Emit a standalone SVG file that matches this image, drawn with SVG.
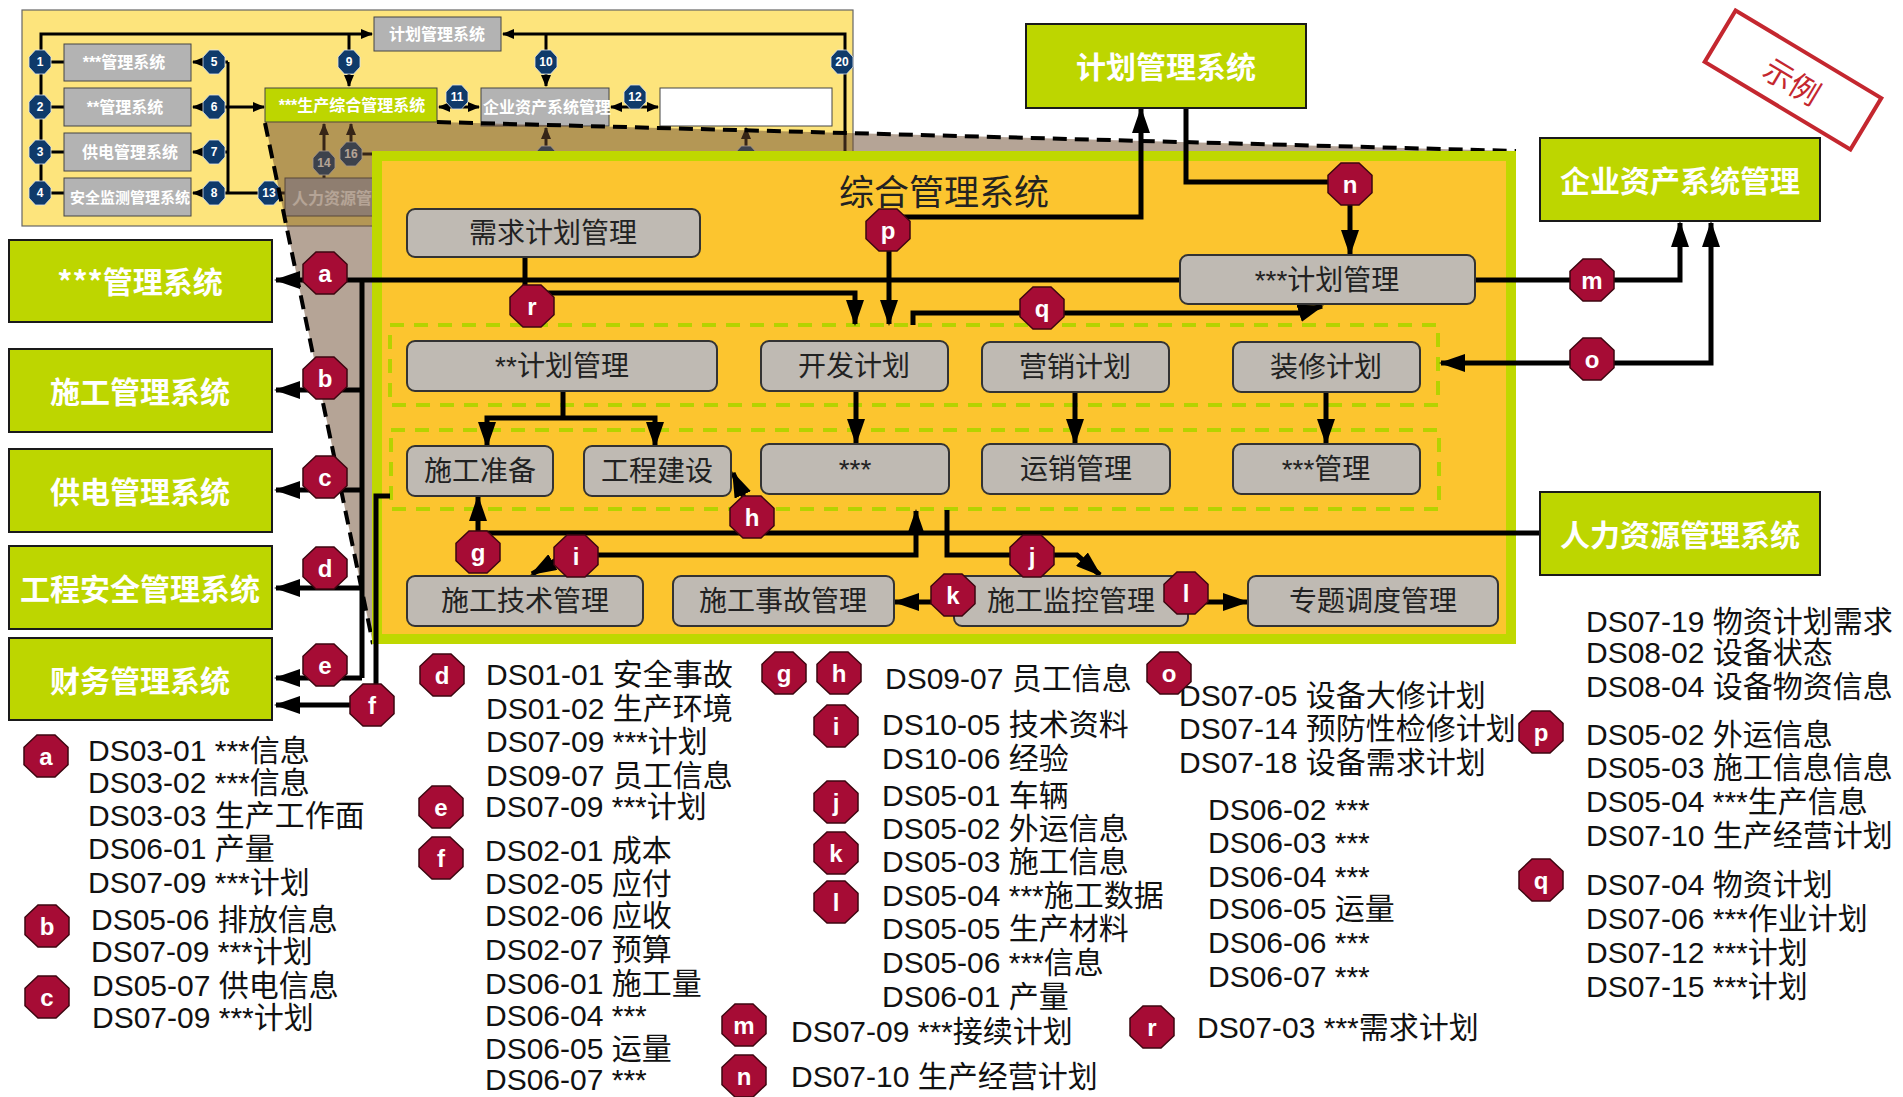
<svg xmlns="http://www.w3.org/2000/svg" xmlns:xlink="http://www.w3.org/1999/xlink" width="1903" height="1097" viewBox="0 0 1903 1097">
<defs>
<style>
.gbox{fill:#BDD600;stroke:#1a1a1a;stroke-width:2}
.gtxt{font-family:"Noto Sans CJK SC",sans-serif;font-weight:700;font-size:30px;fill:#fff;text-anchor:middle;dominant-baseline:central}
.node{fill:#BFBAB3;stroke:#333;stroke-width:2}
.ntxt{font-family:"Liberation Sans","Noto Sans CJK SC",sans-serif;font-size:28px;fill:#222;text-anchor:middle;dominant-baseline:central}
.ibox{fill:#B3B3B3;stroke:#444;stroke-width:1}
.itxt{font-family:"Liberation Sans","Noto Sans CJK SC",sans-serif;font-weight:700;font-size:16px;fill:#fff;text-anchor:middle;dominant-baseline:central}
.conn{fill:none;stroke:#000;stroke-width:5}
.iconn{fill:none;stroke:#000;stroke-width:3}
.rb{fill:#A60C35;stroke:#3d0610;stroke-width:1.5}
.rbt{font-family:"Liberation Sans",sans-serif;font-weight:700;font-size:24px;fill:#fff;text-anchor:middle;dominant-baseline:central}
.nb{fill:#0F3A6A;stroke:#dfe6ee;stroke-width:0.8}
.nbt{font-family:"Liberation Sans",sans-serif;font-weight:700;font-size:12px;fill:#fff;text-anchor:middle;dominant-baseline:central}
.leg{font-family:"Liberation Sans","Noto Sans CJK SC",sans-serif;font-size:30px;fill:#111}
.grp{fill:none;stroke:#B5D300;stroke-width:4;stroke-dasharray:14 10}
.dash{fill:none;stroke:#000;stroke-width:4;stroke-dasharray:14 8}
</style>
<marker id="ar" markerUnits="userSpaceOnUse" markerWidth="26" markerHeight="18" viewBox="0 0 26 18" refX="24" refY="9" orient="auto-start-reverse"><path d="M0,0L26,9L0,18z" fill="#000"/></marker>
<marker id="ars" markerUnits="userSpaceOnUse" markerWidth="12" markerHeight="10" viewBox="0 0 12 10" refX="11" refY="5" orient="auto-start-reverse"><path d="M0,0L12,5L0,10z" fill="#000"/></marker>
<polygon id="oct" points="-9,-21 9,-21 22,-8.7 22,8.7 9,21 -9,21 -22,8.7 -22,-8.7"/>
<polygon id="octs" points="-4.6,-12 4.6,-12 11,-5 11,5 4.6,12 -4.6,12 -11,5 -11,-5"/>
</defs>
<rect width="1903" height="1097" fill="#fff"/>

<!-- inset -->
<g id="inset">
<rect x="22" y="10" width="831" height="216" fill="#FDE47C" stroke="#666" stroke-width="1.2"/>
<g class="iconns">
<path class="iconn" d="M41 193V34H372" marker-end="url(#ars)"/>
<path class="iconn" d="M41 62H64M41 107H64M41 152H64M41 193H64"/>
<path class="iconn" d="M845 152V34H503" marker-end="url(#ars)"/>
<path class="iconn" d="M349 34V86" marker-end="url(#ars)"/>
<path class="iconn" d="M546 34V86" marker-end="url(#ars)"/>
<path class="iconn" d="M228 62V193"/>
<path class="iconn" d="M228 62H193" marker-end="url(#ars)"/>
<path class="iconn" d="M228 107H193" marker-end="url(#ars)"/>
<path class="iconn" d="M228 152H193" marker-end="url(#ars)"/>
<path class="iconn" d="M228 193H193" marker-end="url(#ars)"/>
<path class="iconn" d="M228 107H264" marker-end="url(#ars)"/>
<path class="iconn" d="M228 193H285"/>
<path class="iconn" d="M439 107H479" marker-start="url(#ars)" marker-end="url(#ars)"/>
<path class="iconn" d="M611 107H658" marker-start="url(#ars)" marker-end="url(#ars)"/>
<path class="iconn" d="M324 178V124" marker-end="url(#ars)"/>
<path class="iconn" d="M351 154V124" marker-end="url(#ars)"/>
<path class="iconn" d="M351 154H400"/>
<path class="iconn" d="M546 170V128" marker-end="url(#ars)"/>
<path class="iconn" d="M746 170V128" marker-end="url(#ars)"/>
</g>
<g id="i-plan"><rect class="ibox" x="374" y="17" width="127" height="34"/><text class="itxt" x="437" y="34">计划管理系统</text></g>
<g id="i-s1"><rect class="ibox" x="64" y="44" width="127" height="37"/><text class="itxt" x="124" y="62">***管理系统</text></g>
<g id="i-s2"><rect class="ibox" x="64" y="88" width="127" height="38"/><text class="itxt" x="125" y="107">**管理系统</text></g>
<g id="i-s3"><rect class="ibox" x="64" y="133" width="127" height="38"/><text class="itxt" x="130" y="152">供电管理系统</text></g>
<g id="i-s4"><rect class="ibox" x="64" y="178" width="127" height="38"/><text class="itxt" x="130" y="197" style="font-size:15px">安全监测管理系统</text></g>
<g id="i-prod"><rect x="265" y="88" width="172" height="34" fill="#BDD600" stroke="#444" stroke-width="1"/><text class="itxt" x="352" y="105">***生产综合管理系统</text></g>
<g id="i-asset"><rect class="ibox" x="481" y="88" width="128" height="38"/><text class="itxt" x="547" y="107">企业资产系统管理</text></g>
<g id="i-white"><rect x="660" y="88" width="172" height="38" fill="#fff" stroke="#444" stroke-width="1"/></g>
<g id="i-hr"><rect class="ibox" x="285" y="178" width="140" height="38"/><text class="itxt" x="292" y="198" style="text-anchor:start">人力资源管</text></g>
<g id="i-badges">
<use href="#octs" class="nb" x="40" y="62"/><text class="nbt" x="40" y="62">1</text>
<use href="#octs" class="nb" x="40" y="107"/><text class="nbt" x="40" y="107">2</text>
<use href="#octs" class="nb" x="40" y="152"/><text class="nbt" x="40" y="152">3</text>
<use href="#octs" class="nb" x="40" y="193"/><text class="nbt" x="40" y="193">4</text>
<use href="#octs" class="nb" x="214" y="62"/><text class="nbt" x="214" y="62">5</text>
<use href="#octs" class="nb" x="214" y="107"/><text class="nbt" x="214" y="107">6</text>
<use href="#octs" class="nb" x="214" y="152"/><text class="nbt" x="214" y="152">7</text>
<use href="#octs" class="nb" x="214" y="193"/><text class="nbt" x="214" y="193">8</text>
<use href="#octs" class="nb" x="349" y="62"/><text class="nbt" x="349" y="62">9</text>
<use href="#octs" class="nb" x="546" y="62"/><text class="nbt" x="546" y="62">10</text>
<use href="#octs" class="nb" x="457" y="97"/><text class="nbt" x="457" y="97">11</text>
<use href="#octs" class="nb" x="635" y="97"/><text class="nbt" x="635" y="97">12</text>
<use href="#octs" class="nb" x="269" y="193"/><text class="nbt" x="269" y="193">13</text>
<use href="#octs" class="nb" x="324" y="163"/><text class="nbt" x="324" y="163">14</text>
<use href="#octs" class="nb" x="351" y="154"/><text class="nbt" x="351" y="154">16</text>
<use href="#octs" class="nb" x="546" y="158"/><text class="nbt" x="546" y="158">17</text>
<use href="#octs" class="nb" x="746" y="158"/><text class="nbt" x="746" y="158">18</text>
<use href="#octs" class="nb" x="842" y="62"/><text class="nbt" x="842" y="62">20</text>
</g>
</g>

<!-- zoom overlay -->
<g id="overlay">
<polygon points="265,122 437,122 1516,151 373,644" fill="#6B4A2E" fill-opacity="0.5"/>
<path class="dash" d="M265 123L373 644M437 122L1516 151"/>
</g>

<!-- main panel -->
<g id="panel">
<rect x="372" y="151" width="1144" height="493" fill="#BFD800"/>
<rect x="382" y="161" width="1124" height="473" fill="#FCC52F"/>
<text x="944" y="189" style="font-family:'Noto Sans CJK SC',sans-serif;font-size:35px;fill:#222;text-anchor:middle;dominant-baseline:central">综合管理系统</text>
<rect class="grp" x="390" y="325" width="1048" height="80"/>
<rect class="grp" x="391" y="430" width="1048" height="79"/>
</g>

<!-- connectors -->
<g id="connectors">
<path class="conn" d="M1180 280H276" marker-end="url(#ar)"/>
<path class="conn" d="M362 280V678"/>
<path class="conn" d="M362 390H276" marker-end="url(#ar)"/>
<path class="conn" d="M362 490H276" marker-end="url(#ar)"/>
<path class="conn" d="M362 588H276" marker-end="url(#ar)"/>
<path class="conn" d="M362 678H276" marker-end="url(#ar)"/>
<path class="conn" d="M390 496H376V705H276" marker-end="url(#ar)"/>
<path class="conn" d="M525 257V293H855V324" marker-end="url(#ar)"/>
<path class="conn" d="M889 324V217H1141V109" marker-start="url(#ar)" marker-end="url(#ar)"/>
<path class="conn" d="M1186 108V182H1350V254" marker-end="url(#ar)"/>
<path class="conn" d="M1475 280H1680V223" marker-end="url(#ar)"/>
<path class="conn" d="M1711 223V363H1441" marker-start="url(#ar)" marker-end="url(#ar)"/>
<path class="conn" d="M913 325V313H1300L1322 306" marker-end="url(#ar)"/>
<path class="conn" d="M563 391V418"/>
<path class="conn" d="M487 446V418H655V446" marker-start="url(#ar)" marker-end="url(#ar)"/>
<path class="conn" d="M856 391V443" marker-end="url(#ar)"/>
<path class="conn" d="M1075 392V443" marker-end="url(#ar)"/>
<path class="conn" d="M1326 392V443" marker-end="url(#ar)"/>
<path class="conn" d="M1540 533H478V497" marker-end="url(#ar)"/>
<path class="conn" d="M760 533L733 473" marker-end="url(#ar)"/>
<path class="conn" d="M916 511V555H565L532 574" marker-start="url(#ar)" marker-end="url(#ar)"/>
<path class="conn" d="M947 510V555H1077L1100 575" marker-end="url(#ar)"/>
<path class="conn" d="M954 602H895" marker-end="url(#ar)"/>
<path class="conn" d="M1189 602H1247" marker-end="url(#ar)"/>
</g>

<!-- panel nodes -->
<g id="n-xuqiu"><rect class="node" x="407" y="209" width="293" height="48" rx="8"/><text class="ntxt" x="553" y="233">需求计划管理</text></g>
<g id="n-jihua3"><rect class="node" x="1180" y="255" width="295" height="49" rx="8"/><text class="ntxt" x="1327" y="280">***计划管理</text></g>
<g id="n-jihua2"><rect class="node" x="407" y="341" width="310" height="50" rx="8"/><text class="ntxt" x="562" y="366">**计划管理</text></g>
<g id="n-kaifa"><rect class="node" x="761" y="341" width="187" height="50" rx="8"/><text class="ntxt" x="854" y="366">开发计划</text></g>
<g id="n-yingxiao"><rect class="node" x="982" y="342" width="187" height="50" rx="8"/><text class="ntxt" x="1075" y="367">营销计划</text></g>
<g id="n-zhuangxiu"><rect class="node" x="1233" y="342" width="187" height="50" rx="8"/><text class="ntxt" x="1326" y="367">装修计划</text></g>
<g id="n-zhunbei"><rect class="node" x="407" y="446" width="146" height="50" rx="8"/><text class="ntxt" x="480" y="471">施工准备</text></g>
<g id="n-jianshe"><rect class="node" x="584" y="446" width="147" height="50" rx="8"/><text class="ntxt" x="657" y="471">工程建设</text></g>
<g id="n-star"><rect class="node" x="761" y="444" width="188" height="50" rx="8"/><text class="ntxt" x="855" y="469">***</text></g>
<g id="n-yunxiao"><rect class="node" x="982" y="444" width="188" height="50" rx="8"/><text class="ntxt" x="1076" y="469">运销管理</text></g>
<g id="n-guanli3"><rect class="node" x="1233" y="444" width="187" height="50" rx="8"/><text class="ntxt" x="1326" y="469">***管理</text></g>
<g id="n-jishu"><rect class="node" x="407" y="576" width="236" height="50" rx="8"/><text class="ntxt" x="525" y="601">施工技术管理</text></g>
<g id="n-shigu"><rect class="node" x="673" y="576" width="221" height="50" rx="8"/><text class="ntxt" x="783" y="601">施工事故管理</text></g>
<g id="n-jiankong"><rect class="node" x="954" y="576" width="234" height="50" rx="8"/><text class="ntxt" x="1071" y="601">施工监控管理</text></g>
<g id="n-diaodu"><rect class="node" x="1248" y="576" width="250" height="50" rx="8"/><text class="ntxt" x="1373" y="601">专题调度管理</text></g>

<!-- external systems -->
<g id="s-plan"><rect class="gbox" x="1026" y="24" width="280" height="84"/><text class="gtxt" x="1166" y="65">计划管理系统</text></g>
<g id="s-asset"><rect class="gbox" x="1540" y="138" width="280" height="83"/><text class="gtxt" x="1680" y="179">企业资产系统管理</text></g>
<g id="s-hr"><rect class="gbox" x="1540" y="492" width="280" height="83"/><text class="gtxt" x="1680" y="533">人力资源管理系统</text></g>
<g id="s-a"><rect class="gbox" x="9" y="240" width="263" height="82"/><text class="gtxt" x="140" y="280">***管理系统</text></g>
<g id="s-b"><rect class="gbox" x="9" y="349" width="263" height="83"/><text class="gtxt" x="140" y="390">施工管理系统</text></g>
<g id="s-c"><rect class="gbox" x="9" y="449" width="263" height="83"/><text class="gtxt" x="140" y="490">供电管理系统</text></g>
<g id="s-d"><rect class="gbox" x="9" y="546" width="263" height="83"/><text class="gtxt" x="140" y="587">工程安全管理系统</text></g>
<g id="s-e"><rect class="gbox" x="9" y="638" width="263" height="82"/><text class="gtxt" x="140" y="679">财务管理系统</text></g>

<!-- stamp -->
<g id="stamp" transform="rotate(31 1793 80)">
<rect x="1708" y="50" width="170" height="60" fill="none" stroke="#C4272F" stroke-width="4"/>
<text x="1793" y="80" style="font-family:'Noto Sans CJK SC',sans-serif;font-size:30px;fill:#C4272F;text-anchor:middle;dominant-baseline:central">示例</text>
</g>

<!-- badges on diagram -->
<g id="badges">
<use href="#oct" class="rb" x="325" y="273"/><text class="rbt" x="325" y="273">a</text>
<use href="#oct" class="rb" x="325" y="378"/><text class="rbt" x="325" y="378">b</text>
<use href="#oct" class="rb" x="325" y="477"/><text class="rbt" x="325" y="477">c</text>
<use href="#oct" class="rb" x="325" y="568"/><text class="rbt" x="325" y="568">d</text>
<use href="#oct" class="rb" x="325" y="665"/><text class="rbt" x="325" y="665">e</text>
<use href="#oct" class="rb" x="372" y="705"/><text class="rbt" x="372" y="705">f</text>
<use href="#oct" class="rb" x="478" y="552"/><text class="rbt" x="478" y="552">g</text>
<use href="#oct" class="rb" x="752" y="517"/><text class="rbt" x="752" y="517">h</text>
<use href="#oct" class="rb" x="576" y="556"/><text class="rbt" x="576" y="556">i</text>
<use href="#oct" class="rb" x="1032" y="556"/><text class="rbt" x="1032" y="556">j</text>
<use href="#oct" class="rb" x="953" y="595"/><text class="rbt" x="953" y="595">k</text>
<use href="#oct" class="rb" x="1186" y="593"/><text class="rbt" x="1186" y="593">l</text>
<use href="#oct" class="rb" x="1592" y="280"/><text class="rbt" x="1592" y="280">m</text>
<use href="#oct" class="rb" x="1350" y="184"/><text class="rbt" x="1350" y="184">n</text>
<use href="#oct" class="rb" x="1592" y="359"/><text class="rbt" x="1592" y="359">o</text>
<use href="#oct" class="rb" x="888" y="230"/><text class="rbt" x="888" y="230">p</text>
<use href="#oct" class="rb" x="1042" y="308"/><text class="rbt" x="1042" y="308">q</text>
<use href="#oct" class="rb" x="532" y="306"/><text class="rbt" x="532" y="306">r</text>
</g>

<!-- legend -->
<g id="legend">
<text class="leg" x="88" y="761">DS03-01 ***信息</text>
<text class="leg" x="88" y="793">DS03-02 ***信息</text>
<text class="leg" x="88" y="826">DS03-03 生产工作面</text>
<text class="leg" x="88" y="859">DS06-01 产量</text>
<text class="leg" x="88" y="893">DS07-09 ***计划</text>
<text class="leg" x="91" y="930">DS05-06 排放信息</text>
<text class="leg" x="91" y="962">DS07-09 ***计划</text>
<text class="leg" x="92" y="996">DS05-07 供电信息</text>
<text class="leg" x="92" y="1028">DS07-09 ***计划</text>

<text class="leg" x="486" y="685">DS01-01 安全事故</text>
<text class="leg" x="486" y="719">DS01-02 生产环境</text>
<text class="leg" x="486" y="752">DS07-09 ***计划</text>
<text class="leg" x="486" y="786">DS09-07 员工信息</text>
<text class="leg" x="485" y="817">DS07-09 ***计划</text>
<text class="leg" x="485" y="861">DS02-01 成本</text>
<text class="leg" x="485" y="894">DS02-05 应付</text>
<text class="leg" x="485" y="926">DS02-06 应收</text>
<text class="leg" x="485" y="960">DS02-07 预算</text>
<text class="leg" x="485" y="994">DS06-01 施工量</text>
<text class="leg" x="485" y="1026">DS06-04 ***</text>
<text class="leg" x="485" y="1059">DS06-05 运量</text>
<text class="leg" x="485" y="1090">DS06-07 ***</text>

<text class="leg" x="885" y="689">DS09-07 员工信息</text>
<text class="leg" x="882" y="735">DS10-05 技术资料</text>
<text class="leg" x="882" y="769">DS10-06 经验</text>
<text class="leg" x="882" y="806">DS05-01 车辆</text>
<text class="leg" x="882" y="839">DS05-02 外运信息</text>
<text class="leg" x="882" y="872">DS05-03 施工信息</text>
<text class="leg" x="882" y="906">DS05-04 ***施工数据</text>
<text class="leg" x="882" y="939">DS05-05 生产材料</text>
<text class="leg" x="882" y="973">DS05-06 ***信息</text>
<text class="leg" x="882" y="1007">DS06-01 产量</text>
<text class="leg" x="791" y="1042">DS07-09 ***接续计划</text>
<text class="leg" x="791" y="1087">DS07-10 生产经营计划</text>

<text class="leg" x="1179" y="706">DS07-05 设备大修计划</text>
<text class="leg" x="1179" y="739">DS07-14 预防性检修计划</text>
<text class="leg" x="1179" y="773">DS07-18 设备需求计划</text>
<text class="leg" x="1208" y="820">DS06-02 ***</text>
<text class="leg" x="1208" y="853">DS06-03 ***</text>
<text class="leg" x="1208" y="887">DS06-04 ***</text>
<text class="leg" x="1208" y="919">DS06-05 运量</text>
<text class="leg" x="1208" y="953">DS06-06 ***</text>
<text class="leg" x="1208" y="987">DS06-07 ***</text>
<text class="leg" x="1197" y="1038">DS07-03 ***需求计划</text>

<text class="leg" x="1586" y="632">DS07-19 物资计划需求</text>
<text class="leg" x="1586" y="663">DS08-02 设备状态</text>
<text class="leg" x="1586" y="697">DS08-04 设备物资信息</text>
<text class="leg" x="1586" y="745">DS05-02 外运信息</text>
<text class="leg" x="1586" y="778">DS05-03 施工信息信息</text>
<text class="leg" x="1586" y="812">DS05-04 ***生产信息</text>
<text class="leg" x="1586" y="846">DS07-10 生产经营计划</text>
<text class="leg" x="1586" y="895">DS07-04 物资计划</text>
<text class="leg" x="1586" y="929">DS07-06 ***作业计划</text>
<text class="leg" x="1586" y="963">DS07-12 ***计划</text>
<text class="leg" x="1586" y="997">DS07-15 ***计划</text>

<use href="#oct" class="rb" x="46" y="756"/><text class="rbt" x="46" y="756">a</text>
<use href="#oct" class="rb" x="47" y="926"/><text class="rbt" x="47" y="926">b</text>
<use href="#oct" class="rb" x="47" y="997"/><text class="rbt" x="47" y="997">c</text>
<use href="#oct" class="rb" x="442" y="675"/><text class="rbt" x="442" y="675">d</text>
<use href="#oct" class="rb" x="441" y="807"/><text class="rbt" x="441" y="807">e</text>
<use href="#oct" class="rb" x="441" y="858"/><text class="rbt" x="441" y="858">f</text>
<use href="#oct" class="rb" x="784" y="673"/><text class="rbt" x="784" y="673">g</text>
<use href="#oct" class="rb" x="839" y="673"/><text class="rbt" x="839" y="673">h</text>
<use href="#oct" class="rb" x="836" y="726"/><text class="rbt" x="836" y="726">i</text>
<use href="#oct" class="rb" x="836" y="802"/><text class="rbt" x="836" y="802">j</text>
<use href="#oct" class="rb" x="836" y="853"/><text class="rbt" x="836" y="853">k</text>
<use href="#oct" class="rb" x="836" y="902"/><text class="rbt" x="836" y="902">l</text>
<use href="#oct" class="rb" x="744" y="1025"/><text class="rbt" x="744" y="1025">m</text>
<use href="#oct" class="rb" x="744" y="1076"/><text class="rbt" x="744" y="1076">n</text>
<use href="#oct" class="rb" x="1169" y="673"/><text class="rbt" x="1169" y="673">o</text>
<use href="#oct" class="rb" x="1541" y="732"/><text class="rbt" x="1541" y="732">p</text>
<use href="#oct" class="rb" x="1541" y="880"/><text class="rbt" x="1541" y="880">q</text>
<use href="#oct" class="rb" x="1152" y="1027"/><text class="rbt" x="1152" y="1027">r</text>
</g>
</svg>
